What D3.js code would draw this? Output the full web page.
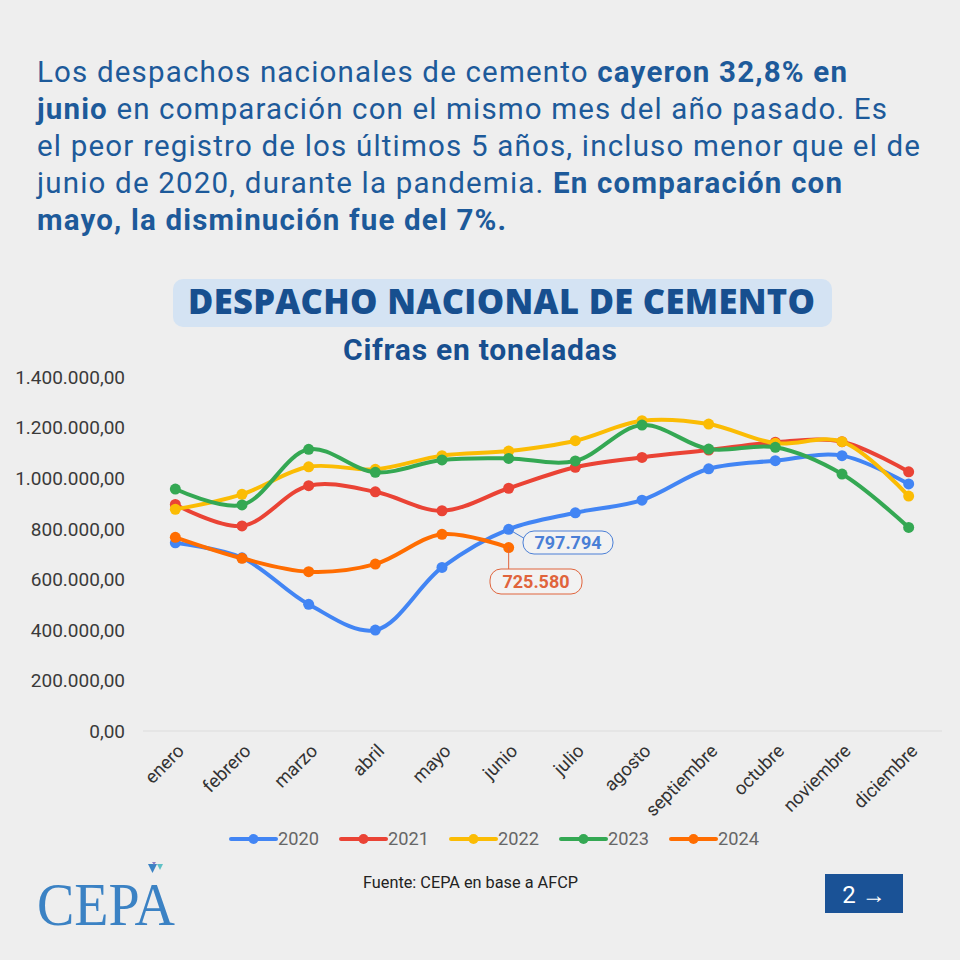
<!DOCTYPE html>
<html><head><meta charset="utf-8">
<script src="https://cdn.jsdelivr.net/npm/d3@7"></script>
<style>
html,body{margin:0;padding:0;background:#eeeeee;}
svg{display:block;}
</style></head>
<body>
<svg id="c" width="960" height="960"></svg>
<script>
const months = ["enero","febrero","marzo","abril","mayo","junio","julio","agosto","septiembre","octubre","noviembre","diciembre"];
const years = ["2020","2021","2022","2023","2024"];
const s2020 = [744000,685000,501000,399000,647000,797794,863000,913000,1037000,1069000,1089000,977000];
const s2021 = [896000,811000,970000,946000,871000,960000,1043000,1082000,1111000,1142000,1144000,1025000];
const s2022 = [877000,936000,1045000,1035000,1089000,1107000,1148000,1227000,1214000,1138000,1144000,929000];
const s2023 = [957000,894000,1114000,1023000,1072000,1078000,1068000,1210000,1115000,1122000,1016000,805000];
const s2024 = [766000,683000,630000,660000,778000,725580];
const yTicks = [0,200000,400000,600000,800000,1000000,1200000,1400000];
const colors = ["#4285f4","#ea4335","#fbbc04","#34a853","#ff6d01"];
const series = [s2020,s2021,s2022,s2023,s2024];

const svg = d3.select("#c");
const loc = d3.formatLocale({decimal:",",thousands:".",grouping:[3],currency:["",""]});
const fmtTick = loc.format(",.2f");
const fmtLab = loc.format(",d");

function fitWidth(sel, target){
  const node = sel.node();
  const n = node.textContent.length;
  const w = node.getComputedTextLength();
  sel.attr("letter-spacing", ((target - w) / Math.max(1, n - 1)).toFixed(3));
}

// background
svg.append("rect").attr("width",960).attr("height",960).attr("fill","#eeeeee");

// intro text
const intro = [
  [["Los despachos nacionales de cemento ",0],["cayeron 32,8% en",1]],
  [["junio",1],[" en comparación con el mismo mes del año pasado. Es",0]],
  [["el peor registro de los últimos 5 años, incluso menor que el de",0]],
  [["junio de 2020, durante la pandemia. ",0],["En comparación con",1]],
  [["mayo, la disminución fue del 7%.",1]]
];
const introW = [810, 850, 883, 805, 469];
const tg = svg.append("g").attr("font-family","Roboto").attr("font-size",29.5).attr("fill","#1d5a9a");
intro.forEach((ln,i)=>{
  const t = tg.append("text").attr("x",37).attr("y",82+i*37);
  ln.forEach(([s,b])=>t.append("tspan").attr("font-weight",b?700:400).text(s));
  fitWidth(t, introW[i]);
});

// heading
svg.append("rect").attr("x",173).attr("y",279).attr("width",659).attr("height",48).attr("rx",10).attr("fill","#d4e3f3");
const h = svg.append("text").attr("x",188).attr("y",314)
  .attr("font-family","Open Sans").attr("font-weight",800).attr("font-size",34.5).attr("fill","#174f8f")
  .text("DESPACHO NACIONAL DE CEMENTO");
fitWidth(h, 627);
const sub = svg.append("text").attr("x",343).attr("y",360)
  .attr("font-family","Roboto").attr("font-weight",700).attr("font-size",30).attr("fill","#174f8f")
  .text("Cifras en toneladas");
fitWidth(sub, 274);

// scales
const x = d3.scalePoint().domain(months).range([142,942]).padding(0.5);
const y = d3.scaleLinear().domain([0,1400000]).range([731,377]);

// y axis labels
const ya = svg.append("g").attr("font-family","Roboto").attr("font-size",19).attr("fill","#3a3a3a");
yTicks.forEach(v=>{
  ya.append("text").attr("x",125).attr("y",y(v)).attr("dy","0.36em").attr("text-anchor","end").text(fmtTick(v));
});
svg.append("line").attr("x1",143).attr("x2",942).attr("y1",y(0)).attr("y2",y(0)).attr("stroke","#dcdcdc").attr("stroke-width",1);

// x axis labels
const xa = svg.append("g").attr("font-family","Roboto").attr("font-size",18.5).attr("fill","#333");
months.forEach(m=>{
  xa.append("text").attr("text-anchor","end")
    .attr("transform",`translate(${x(m)+10},${752}) rotate(-45)`)
    .text(m);
});

// lines
const line = d3.line().x((d,i)=>x(months[i])).y(d=>y(d)).curve(d3.curveCatmullRom.alpha(0.5));
series.forEach((s,k)=>{
  const g = svg.append("g");
  g.append("path").datum(s).attr("d",line).attr("fill","none").attr("stroke",colors[k]).attr("stroke-width",4).attr("stroke-linejoin","round").attr("stroke-linecap","round");
  g.selectAll("circle").data(s).join("circle").attr("cx",(d,i)=>x(months[i])).attr("cy",d=>y(d)).attr("r",5.5).attr("fill",colors[k]);
});

// annotations
const jx = x("junio");
function callout(val,color,bx,by,bw,bh,lx1,ly1,lx2,ly2){
  svg.append("line").attr("x1",lx1).attr("y1",ly1).attr("x2",lx2).attr("y2",ly2).attr("stroke",color).attr("stroke-width",1);
  svg.append("rect").attr("x",bx).attr("y",by).attr("width",bw).attr("height",bh).attr("rx",11).attr("fill","#f2f2f2").attr("stroke",color).attr("stroke-width",1);
  svg.append("text").attr("x",bx+bw/2).attr("y",by+bh/2).attr("dy","0.36em").attr("text-anchor","middle")
    .attr("font-family","Roboto").attr("font-weight",700).attr("font-size",18).attr("fill",color).text(fmtLab(val));
}
callout(s2020[5],"#4a7fd6",523,531,90,23,jx,y(s2020[5]),527,540);
callout(s2024[5],"#e0643c",490,569,92,25,jx,y(s2024[5]),jx,569);

// legend
const lg = svg.append("g").attr("font-family","Roboto").attr("font-size",18).attr("fill","#666");
years.forEach((yr,k)=>{
  const lx = 231 + 110*k;
  lg.append("line").attr("x1",lx).attr("x2",lx+45).attr("y1",839).attr("y2",839).attr("stroke",colors[k]).attr("stroke-width",4).attr("stroke-linecap","round");
  lg.append("circle").attr("cx",lx+22.5).attr("cy",839).attr("r",5).attr("fill",colors[k]);
  lg.append("text").attr("x",lx+47).attr("y",839).attr("dy","0.36em").attr("textLength",41).attr("lengthAdjust","spacingAndGlyphs").text(yr);
});

// footer
svg.append("text").attr("x",363).attr("y",888).attr("font-family","Roboto").attr("font-size",17).attr("fill","#222")
  .attr("textLength",215).attr("lengthAdjust","spacingAndGlyphs").text("Fuente: CEPA en base a AFCP");
svg.append("text").attr("x",37).attr("y",925).attr("font-family","Liberation Serif").attr("font-size",62).attr("fill","#3b82c4").attr("textLength",138).attr("lengthAdjust","spacingAndGlyphs").text("CEPA");
svg.append("path").attr("d","M148,864 L157,864 L152.5,873 Z").attr("fill","#3b82c4");
svg.append("path").attr("d","M157,864 L163,864 L160,870 Z").attr("fill","#5fc1c6");
svg.append("path").attr("d","M152,862 L156,862 L154,865 Z").attr("fill","#8b7fc6");
svg.append("rect").attr("x",825).attr("y",874).attr("width",78).attr("height",39).attr("fill","#1a5296");
svg.append("text").attr("x",864).attr("y",894).attr("dy","0.36em").attr("text-anchor","middle").attr("font-family","Roboto").attr("font-size",24).attr("fill","#fff").text("2 →");
</script>
</body></html>
